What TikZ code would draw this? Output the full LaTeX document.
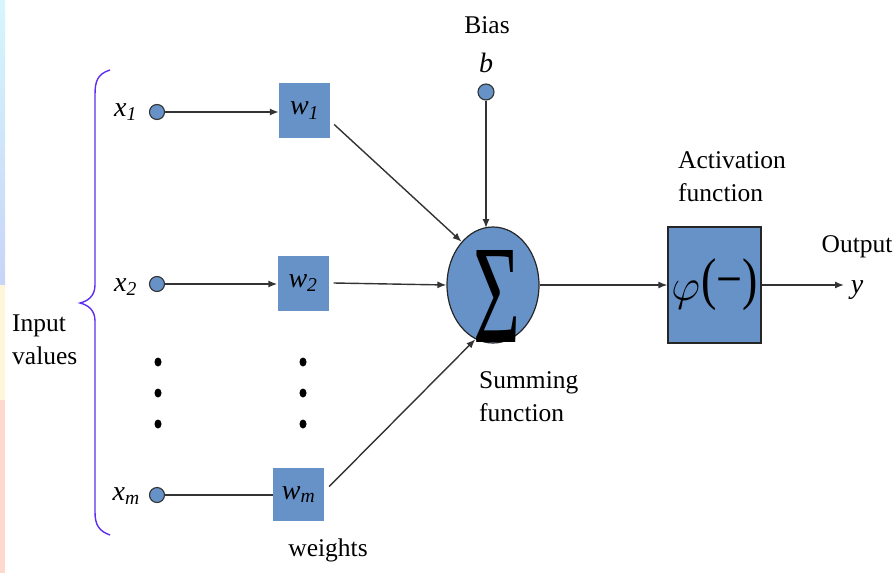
\documentclass[tikz,border=0pt]{standalone}
\usepackage{fontspec}
\usepackage{graphicx}
\setmainfont{Liberation Serif}
\usetikzlibrary{arrows.meta,shapes.geometric}
\definecolor{nblue}{RGB}{103,146,200}
\definecolor{brc}{RGB}{95,45,240}
\definecolor{stripA}{RGB}{214,246,252}
\definecolor{stripB}{RGB}{200,212,248}
\definecolor{stripC}{RGB}{255,246,218}
\definecolor{stripD}{RGB}{255,216,206}
\begin{document}
\begin{tikzpicture}[x=1pt,y=-1pt,
  lbl/.style={font=\fontsize{25.5}{33}\selectfont, align=left, inner sep=0},
  var/.style={font=\fontsize{28}{30}\selectfont\itshape, inner sep=0},
  inpt/.style={circle, draw=black!80, fill=nblue, minimum size=15pt, inner sep=0, line width=1.1pt},
  wbox/.style={fill=nblue, minimum width=51pt, minimum height=55pt, inner sep=0, font=\fontsize{28}{30}\selectfont\itshape},
  conn/.style={draw=black!80, line width=1.4pt},
  arr/.style={conn, -{Latex[length=9pt,width=7pt]}},
  bigdot/.style={ellipse, fill=black, minimum width=7pt, minimum height=9pt, inner sep=0}
]
\useasboundingbox (0,0) rectangle (896,573);
% left strip
\shade[top color=stripA, bottom color=stripB] (0,0) rectangle (5,285);
\fill[stripC] (0,285) rectangle (5,400);
\fill[stripD] (0,400) rectangle (5,573);

% brace
\draw[brc, line width=1.4pt] (110,70) .. controls (97,74) and (95,82) .. (95,95)
  -- (95,285) .. controls (95,296) and (88,301) .. (80,303)
  .. controls (88,305) and (95,310) .. (95,321)
  -- (95,512) .. controls (95,525) and (99,531) .. (110,535);
\node[lbl, anchor=west] (inlbl) at (12,340) {Input\\values};

% inputs
\node[inpt] (c1) at (157,112) {};
\node[inpt] (c2) at (157,284) {};
\node[inpt] (cm) at (157,495) {};
\node[var, anchor=east] (x1) at (137,112) {x\textsubscript{1}};
\node[var, anchor=east] (x2) at (137,287) {x\textsubscript{2}};
\node[var, anchor=east] (xm) at (140,496) {x\textsubscript{m}};

% weights
\node[wbox] (w1) at (304.5,110.5) {w\textsubscript{1}};
\node[wbox] (w2) at (303,283) {w\textsubscript{2}};
\node[wbox, minimum height=53pt] (wm) at (298.5,494.5) {w\textsubscript{m}};
\node[lbl, anchor=center] (wlbl) at (328,550) {weights};

% dots
\foreach \yy [count=\i] in {362,393,424} {
  \node[bigdot] (da\i) at (158,\yy) {};
  \node[bigdot] (db\i) at (303,\yy) {};
}

% summing
\node[ellipse, draw=black!85, fill=nblue, minimum width=92pt, minimum height=116pt, line width=1.2pt, inner sep=0] (sum) at (493,285) {};
\node[inner sep=0] (sig) at (497,296) {\resizebox{47pt}{92pt}{Σ}};
\node[lbl, anchor=west] (sumlbl) at (479,397) {Summing\\function};

% bias
\node[inpt, minimum size=16pt] (bc) at (486,92) {};
\node[var] (b) at (486,63) {b};
\node[lbl] (biaslbl) at (487,25) {Bias};
\coordinate (btop) at (486,228);

% activation
\node[draw=black!85, fill=nblue, minimum width=93pt, minimum height=116pt, line width=1.2pt, inner sep=0] (act) at (714.5,285)
  {\fontsize{46}{46}\selectfont\raisebox{-2pt}{\scalebox{1.8}{$\varphi$}}\kern1pt\scalebox{1}[1.25]{(−)}};
\node[lbl, anchor=west] (actlbl) at (678,177) {Activation\\function};
\node[lbl] (outlbl) at (857,247) {Output};
\node[var] (y) at (857,290) {y};
\coordinate (oend) at (844,285);

% connectors
\draw[arr] (c1.east) -- (w1.west |- c1.east);
\draw[arr] (c2.east) -- (w2.west |- c2.east);
\draw[conn] (cm.east) -- (wm.west |- cm.east);
\draw[arr] ([shift={(4,14)}]w1.east) -- (sum.126);
\draw[arr] ([xshift=5pt]w2.east) -- (sum.west);
\draw[arr] ([shift={(5,-8)}]wm.east) -- (sum.252);
\draw[arr] (bc.south) -- (btop);
\draw[arr] (sum.east) -- (act.west);
\draw[arr] (act.east) -- (oend);
\end{tikzpicture}
\end{document}
